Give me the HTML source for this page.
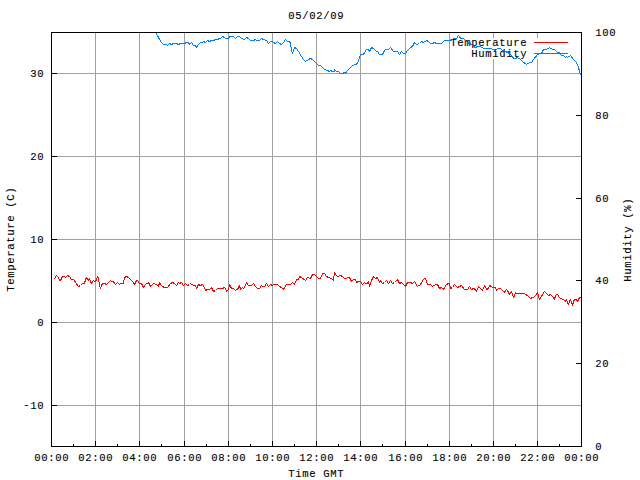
<!DOCTYPE html>
<html><head><meta charset="utf-8"><style>
html,body{margin:0;padding:0;background:#fff;width:640px;height:480px;overflow:hidden}
svg{display:block}
</style></head><body>
<svg width="640" height="480" viewBox="0 0 640 480">
<rect width="640" height="480" fill="#fff"/>
<g shape-rendering="crispEdges">
<path d="M95.5 33V441M139.5 33V441M184.5 33V441M228.5 33V441M272.5 33V441M316.5 33V441M360.5 33V441M405.5 33V441M449.5 33V441M493.5 33V38M493.5 59V441M537.5 33V38M537.5 59V441M57 73.5H581M57 156.5H581M57 239.5H581M57 322.5H581M57 405.5H581" stroke="#a0a0a0" fill="none"/>
</g>
<g font-family="Liberation Mono, DejaVu Sans Mono, monospace" font-size="10.6" fill="#000" stroke="#000" stroke-width="0.1">
<text x="34.35 41.35 48.35 55.35 62.35" y="461">00:00</text>
<text x="78.35 85.35 92.35 99.35 106.35" y="461">02:00</text>
<text x="122.35 129.35 136.35 143.35 150.35" y="461">04:00</text>
<text x="167.35 174.35 181.35 188.35 195.35" y="461">06:00</text>
<text x="211.35 218.35 225.35 232.35 239.35" y="461">08:00</text>
<text x="255.35 262.35 269.35 276.35 283.35" y="461">10:00</text>
<text x="299.35 306.35 313.35 320.35 327.35" y="461">12:00</text>
<text x="343.35 350.35 357.35 364.35 371.35" y="461">14:00</text>
<text x="388.35 395.35 402.35 409.35 416.35" y="461">16:00</text>
<text x="432.35 439.35 446.35 453.35 460.35" y="461">18:00</text>
<text x="476.35 483.35 490.35 497.35 504.35" y="461">20:00</text>
<text x="520.35 527.35 534.35 541.35 548.35" y="461">22:00</text>
<text x="564.35 571.35 578.35 585.35 592.35" y="461">00:00</text>
<text x="288.35 295.35 302.35 309.35 316.35 323.35 330.35 337.35" y="19">05/02/09</text>
<text x="288.35 295.35 302.35 309.35 316.35 323.35 330.35 337.35" y="477">Time GMT</text>
<text x="30.35 37.35" y="77">30</text>
<text x="30.35 37.35" y="160">20</text>
<text x="30.35 37.35" y="243">10</text>
<text x="37.35" y="326">0</text>
<text x="23.35 30.35 37.35" y="409"><tspan dy="-1">-</tspan><tspan dy="1">10</tspan></text>
<text x="595.35" y="450">0</text>
<text x="595.35 602.35" y="367">20</text>
<text x="595.35 602.35" y="284">40</text>
<text x="595.35 602.35" y="202">60</text>
<text x="595.35 602.35" y="119">80</text>
<text x="595.35 602.35 609.35" y="36">100</text>
<text x="450.35 457.35 464.35 471.35 478.35 485.35 492.35 499.35 506.35 513.35 520.35" y="46">Temperature</text>
<text x="471.35 478.35 485.35 492.35 499.35 506.35 513.35 520.35" y="57">Humidity</text>
<text transform="translate(14,292) rotate(-90)" x="0.35 7.35 14.35 21.35 28.35 35.35 42.35 49.35 56.35 63.35 70.35 77.35 84.35 91.35 98.35" y="0">Temperature (C)</text>
<text transform="translate(631,282) rotate(-90)" x="0.35 7.35 14.35 21.35 28.35 35.35 42.35 49.35 56.35 63.35 70.35 77.35" y="0">Humidity (%)</text>
</g>
<g shape-rendering="crispEdges"><path d="M534 42.5H568" stroke="#ff0000"/><path d="M534 53.5H568" stroke="#0080ff"/></g>
<clipPath id="c"><rect x="51" y="32" width="531" height="415"/></clipPath>
<g clip-path="url(#c)" shape-rendering="crispEdges"><path d="M53.5 278.5 L54.5 278.5 L56.5 275.5 L58.5 277.5 L59.5 280.5 L60.5 280.5 L62.5 276.5 L64.5 276.5 L65.5 277.5 L67.5 275.5 L69.5 276.5 L71.5 279.5 L73.5 279.5 L78.5 286.5 L80.5 285.5 L82.5 283.5 L84.5 283.5 L85.5 279.5 L86.5 277.5 L87.5 278.5 L88.5 280.5 L89.5 278.5 L90.5 281.5 L91.5 283.5 L93.5 280.5 L94.5 281.5 L95.5 281.5 L96.5 279.5 L97.5 276.5 L98.5 278.5 L98.5 281.5 L99.5 282.5 L99.5 285.5 L100.5 288.5 L101.5 285.5 L102.5 283.5 L104.5 283.5 L106.5 284.5 L107.5 283.5 L109.5 281.5 L110.5 280.5 L111.5 281.5 L113.5 281.5 L114.5 283.5 L115.5 284.5 L117.5 282.5 L119.5 284.5 L120.5 283.5 L123.5 283.5 L124.5 277.5 L126.5 276.5 L128.5 277.5 L129.5 278.5 L131.5 280.5 L132.5 281.5 L134.5 284.5 L136.5 280.5 L137.5 280.5 L139.5 283.5 L141.5 283.5 L143.5 287.5 L145.5 284.5 L148.5 282.5 L150.5 286.5 L153.5 283.5 L156.5 284.5 L158.5 286.5 L159.5 282.5 L160.5 284.5 L162.5 286.5 L164.5 287.5 L167.5 287.5 L170.5 283.5 L172.5 282.5 L174.5 283.5 L176.5 285.5 L178.5 282.5 L179.5 283.5 L181.5 282.5 L183.5 285.5 L185.5 283.5 L187.5 285.5 L189.5 284.5 L190.5 283.5 L193.5 285.5 L195.5 285.5 L196.5 288.5 L198.5 284.5 L200.5 285.5 L202.5 284.5 L203.5 285.5 L205.5 290.5 L207.5 289.5 L209.5 289.5 L211.5 287.5 L213.5 291.5 L215.5 290.5 L217.5 288.5 L222.5 288.5 L224.5 287.5 L225.5 288.5 L226.5 291.5 L228.5 289.5 L229.5 284.5 L230.5 286.5 L231.5 288.5 L233.5 288.5 L235.5 290.5 L236.5 289.5 L237.5 289.5 L239.5 285.5 L240.5 289.5 L242.5 287.5 L243.5 288.5 L244.5 287.5 L246.5 282.5 L248.5 285.5 L251.5 285.5 L253.5 283.5 L255.5 286.5 L257.5 288.5 L259.5 288.5 L261.5 285.5 L262.5 286.5 L264.5 286.5 L266.5 283.5 L268.5 286.5 L270.5 284.5 L272.5 285.5 L273.5 284.5 L277.5 284.5 L283.5 289.5 L286.5 284.5 L290.5 284.5 L292.5 282.5 L294.5 284.5 L296.5 279.5 L298.5 279.5 L299.5 276.5 L301.5 277.5 L305.5 280.5 L307.5 277.5 L310.5 278.5 L312.5 274.5 L314.5 274.5 L316.5 276.5 L318.5 278.5 L320.5 278.5 L322.5 273.5 L324.5 273.5 L326.5 276.5 L328.5 277.5 L331.5 278.5 L333.5 280.5 L334.5 272.5 L335.5 274.5 L337.5 276.5 L340.5 275.5 L342.5 276.5 L344.5 278.5 L349.5 277.5 L351.5 281.5 L353.5 279.5 L355.5 279.5 L356.5 282.5 L358.5 281.5 L360.5 281.5 L362.5 284.5 L364.5 282.5 L365.5 283.5 L367.5 283.5 L368.5 281.5 L369.5 286.5 L371.5 280.5 L373.5 276.5 L375.5 278.5 L377.5 277.5 L379.5 282.5 L380.5 280.5 L382.5 283.5 L384.5 282.5 L386.5 280.5 L388.5 283.5 L390.5 280.5 L392.5 283.5 L394.5 282.5 L397.5 279.5 L399.5 283.5 L401.5 282.5 L402.5 283.5 L405.5 286.5 L407.5 282.5 L410.5 282.5 L412.5 283.5 L414.5 281.5 L417.5 286.5 L420.5 284.5 L423.5 279.5 L424.5 278.5 L425.5 278.5 L427.5 284.5 L430.5 284.5 L432.5 286.5 L435.5 284.5 L437.5 284.5 L439.5 288.5 L441.5 287.5 L443.5 289.5 L446.5 284.5 L448.5 283.5 L449.5 283.5 L450.5 288.5 L452.5 287.5 L454.5 284.5 L457.5 287.5 L459.5 286.5 L461.5 285.5 L464.5 289.5 L467.5 289.5 L469.5 286.5 L471.5 289.5 L473.5 288.5 L475.5 289.5 L476.5 291.5 L478.5 286.5 L480.5 288.5 L482.5 290.5 L484.5 285.5 L485.5 286.5 L486.5 289.5 L488.5 288.5 L489.5 285.5 L491.5 286.5 L492.5 287.5 L495.5 287.5 L496.5 290.5 L498.5 288.5 L500.5 288.5 L501.5 289.5 L502.5 290.5 L503.5 291.5 L504.5 292.5 L505.5 290.5 L506.5 289.5 L507.5 290.5 L508.5 292.5 L509.5 294.5 L510.5 293.5 L511.5 291.5 L512.5 294.5 L513.5 297.5 L514.5 295.5 L515.5 292.5 L515.5 293.5 L524.5 293.5 L528.5 296.5 L530.5 298.5 L532.5 297.5 L533.5 297.5 L536.5 294.5 L537.5 292.5 L539.5 299.5 L541.5 296.5 L544.5 291.5 L548.5 295.5 L550.5 294.5 L552.5 296.5 L553.5 297.5 L554.5 299.5 L555.5 295.5 L556.5 294.5 L557.5 294.5 L559.5 297.5 L562.5 299.5 L563.5 299.5 L565.5 301.5 L566.5 299.5 L567.5 302.5 L568.5 304.5 L569.5 301.5 L570.5 299.5 L571.5 302.5 L572.5 305.5 L573.5 301.5 L574.5 299.5 L576.5 299.5 L577.5 301.5 L578.5 299.5 L579.5 297.5 L580.5 297.5 L581.5 297.5" stroke="#ff0000" fill="none" stroke-width="1" stroke-linejoin="bevel"/><path d="M152.5 28.5 L155.5 32.5 L157.5 35.5 L159.5 39.5 L161.5 42.5 L163.5 44.5 L166.5 44.5 L167.5 45.5 L169.5 43.5 L171.5 44.5 L173.5 43.5 L176.5 43.5 L178.5 44.5 L180.5 43.5 L184.5 43.5 L186.5 42.5 L188.5 42.5 L189.5 44.5 L191.5 42.5 L193.5 45.5 L195.5 45.5 L196.5 47.5 L198.5 44.5 L200.5 42.5 L202.5 42.5 L203.5 41.5 L205.5 42.5 L207.5 40.5 L209.5 41.5 L211.5 40.5 L213.5 40.5 L215.5 39.5 L217.5 39.5 L219.5 38.5 L220.5 38.5 L222.5 36.5 L224.5 37.5 L225.5 38.5 L228.5 38.5 L229.5 36.5 L233.5 36.5 L235.5 38.5 L237.5 36.5 L239.5 36.5 L241.5 38.5 L244.5 39.5 L246.5 37.5 L248.5 38.5 L250.5 40.5 L253.5 40.5 L255.5 39.5 L256.5 40.5 L259.5 40.5 L261.5 38.5 L263.5 39.5 L266.5 40.5 L268.5 43.5 L270.5 41.5 L272.5 41.5 L273.5 42.5 L275.5 43.5 L277.5 41.5 L279.5 43.5 L281.5 44.5 L283.5 42.5 L285.5 39.5 L287.5 41.5 L289.5 41.5 L290.5 43.5 L291.5 50.5 L292.5 53.5 L293.5 50.5 L294.5 47.5 L296.5 48.5 L298.5 51.5 L301.5 56.5 L303.5 59.5 L305.5 61.5 L308.5 59.5 L310.5 58.5 L312.5 59.5 L314.5 61.5 L316.5 63.5 L318.5 65.5 L320.5 65.5 L322.5 67.5 L324.5 69.5 L327.5 70.5 L329.5 71.5 L330.5 70.5 L332.5 71.5 L334.5 71.5 L334.5 69.5 L336.5 71.5 L338.5 71.5 L340.5 73.5 L342.5 73.5 L344.5 72.5 L345.5 73.5 L346.5 71.5 L349.5 68.5 L352.5 65.5 L355.5 64.5 L357.5 63.5 L358.5 60.5 L360.5 54.5 L363.5 54.5 L364.5 52.5 L366.5 49.5 L368.5 49.5 L369.5 51.5 L371.5 47.5 L373.5 48.5 L376.5 51.5 L377.5 51.5 L379.5 54.5 L382.5 54.5 L384.5 50.5 L385.5 49.5 L388.5 49.5 L390.5 47.5 L393.5 51.5 L397.5 51.5 L399.5 54.5 L401.5 51.5 L403.5 53.5 L405.5 53.5 L407.5 50.5 L410.5 47.5 L412.5 46.5 L414.5 42.5 L416.5 44.5 L419.5 43.5 L421.5 41.5 L423.5 42.5 L426.5 40.5 L428.5 41.5 L430.5 43.5 L432.5 43.5 L434.5 42.5 L436.5 43.5 L441.5 43.5 L444.5 40.5 L449.5 40.5 L451.5 40.5 L453.5 38.5 L456.5 38.5 L458.5 35.5 L459.5 36.5 L460.5 38.5 L463.5 38.5 L464.5 39.5 L465.5 40.5 L467.5 42.5 L469.5 43.5 L471.5 44.5 L473.5 46.5 L475.5 47.5 L477.5 46.5 L480.5 46.5 L483.5 48.5 L485.5 48.5 L488.5 48.5 L490.5 48.5 L493.5 49.5 L495.5 50.5 L497.5 48.5 L500.5 48.5 L502.5 50.5 L505.5 51.5 L507.5 52.5 L509.5 53.5 L512.5 56.5 L513.5 58.5 L515.5 58.5 L517.5 57.5 L520.5 59.5 L522.5 61.5 L526.5 64.5 L529.5 62.5 L531.5 62.5 L533.5 59.5 L537.5 54.5 L539.5 53.5 L541.5 53.5 L543.5 49.5 L546.5 49.5 L549.5 47.5 L552.5 49.5 L554.5 49.5 L557.5 52.5 L559.5 52.5 L561.5 55.5 L563.5 55.5 L565.5 57.5 L566.5 56.5 L567.5 57.5 L570.5 55.5 L573.5 59.5 L575.5 61.5 L576.5 62.5 L578.5 67.5 L579.5 71.5 L580.5 74.5 L582.5 76.5" stroke="#0080ff" fill="none" stroke-width="1" stroke-linejoin="bevel"/></g>
<g shape-rendering="crispEdges">
<path d="M95.5 441V446M139.5 441V446M184.5 441V446M228.5 441V446M272.5 441V446M316.5 441V446M360.5 441V446M405.5 441V446M449.5 441V446M493.5 441V446M537.5 441V446M73.5 444V446M117.5 444V446M161.5 444V446M206.5 444V446M250.5 444V446M294.5 444V446M338.5 444V446M382.5 444V446M427.5 444V446M471.5 444V446M515.5 444V446M559.5 444V446M51 73.5H57M51 156.5H57M51 239.5H57M51 322.5H57M51 405.5H57M576 363.5H581M576 280.5H581M576 198.5H581M576 115.5H581" stroke="#000" fill="none"/>
<rect x="51.5" y="32.5" width="530" height="414" stroke="#000" fill="none"/>
</g>
</svg>
</body></html>
